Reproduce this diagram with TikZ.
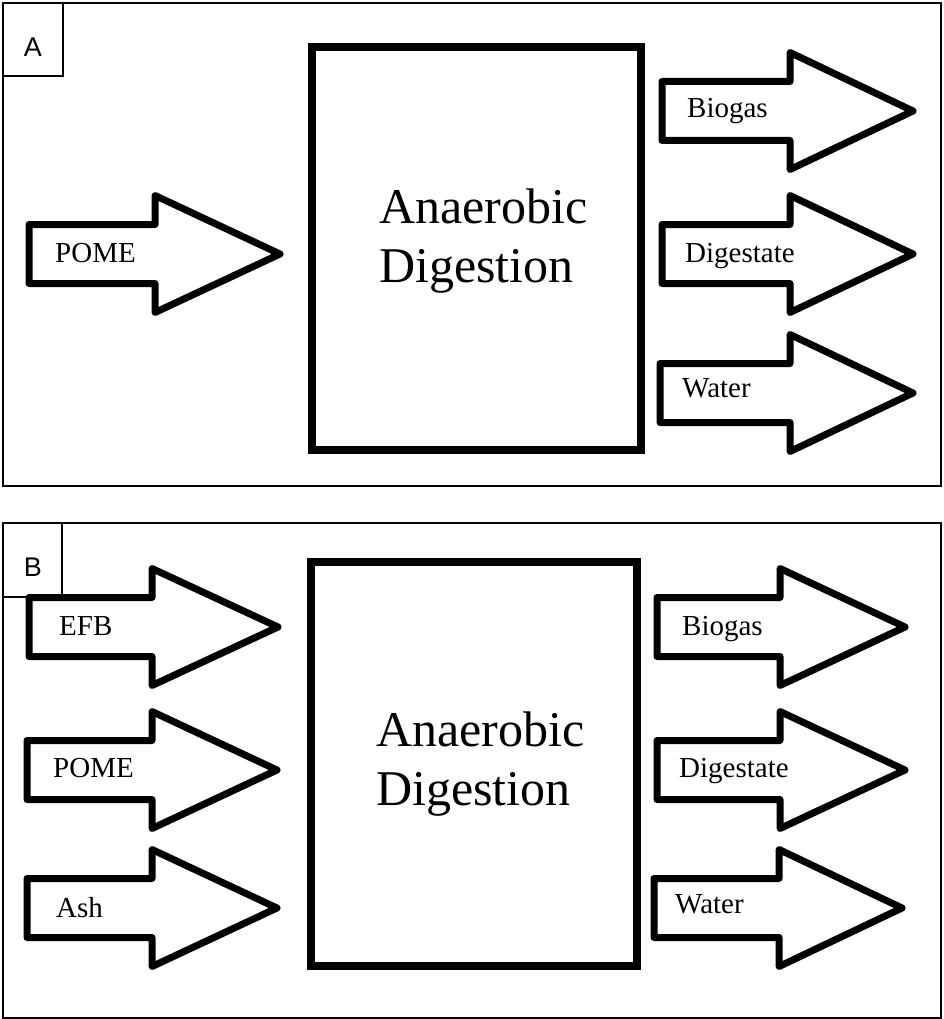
\documentclass[tikz,border=0pt]{standalone}
\usepackage{fontspec}
\setmainfont{Liberation Serif}
\newfontfamily\panelfont{Liberation Sans}
\tikzset{
  frame/.style={draw=black, line width=1.5pt},
  tagbox/.style={draw=black, line width=1.5pt},
  tagtext/.style={font=\panelfont\fontsize{27}{31}\selectfont, inner sep=0pt, anchor=base},
  bigbox/.style={draw=black, line width=8pt},
  flowarrow/.style={draw=black, line width=7pt, line join=round, fill=white},
  arrowlabel/.style={font=\fontsize{29}{33}\selectfont, inner sep=0pt, anchor=base west},
  maintext/.style={font=\fontsize{50}{59}\selectfont, inner sep=0pt, align=left, anchor=base west}
}
% #1 shaft left x, #2 head back x, #3 tip x, #4 centre y
\newcommand{\flowarr}[4]{%
  \draw[flowarrow] (#1,#4-29.5) -- (#2,#4-29.5) -- (#2,#4-58.5) -- (#3,#4)
    -- (#2,#4+58.5) -- (#2,#4+29.5) -- (#1,#4+29.5) -- cycle;}
\begin{document}
\begin{tikzpicture}[x=1pt,y=-1pt]
\useasboundingbox (0,0) rectangle (943,1019);
% ---------- Panel A ----------
\draw[frame] (3,3) rectangle (941,486);
\draw[tagbox] (3,3) rectangle (63,76);
\node[tagtext] (tagA) at (33,57) {A};
\draw[bigbox] (312,47) rectangle (641,450);
\node[maintext] (adA) at (379,282) {Anaerobic\\Digestion};
\flowarr{29}{155}{280}{254}
\node[arrowlabel] (pomeA) at (55,262) {POME};
\flowarr{662}{790}{913}{111}
\node[arrowlabel] (biogasA) at (687,118) {Biogas};
\flowarr{662}{790}{913}{254}
\node[arrowlabel] (digestateA) at (685,262) {Digestate};
\flowarr{660}{790}{913}{393}
\node[arrowlabel] (waterA) at (682,397) {Water};
% ---------- Panel B ----------
\draw[frame] (3,523) rectangle (941,1018);
\draw[tagbox] (3,523) rectangle (62,597);
\node[tagtext] (tagB) at (33,576) {B};
\draw[bigbox] (311,562) rectangle (637,966);
\node[maintext] (adB) at (376,805) {Anaerobic\\Digestion};
\flowarr{29}{152}{278}{627}
\node[arrowlabel] (efbB) at (59,635) {EFB};
\flowarr{27}{152}{277}{770}
\node[arrowlabel] (pomeB) at (53,777) {POME};
\flowarr{27}{152}{277}{908}
\node[arrowlabel] (ashB) at (56,917) {Ash};
\flowarr{657}{780}{905}{627}
\node[arrowlabel] (biogasB) at (682,635) {Biogas};
\flowarr{657}{780}{905}{770}
\node[arrowlabel] (digestateB) at (679,777) {Digestate};
\flowarr{654}{779}{902}{908}
\node[arrowlabel] (waterB) at (675,913) {Water};
\end{tikzpicture}
\end{document}
